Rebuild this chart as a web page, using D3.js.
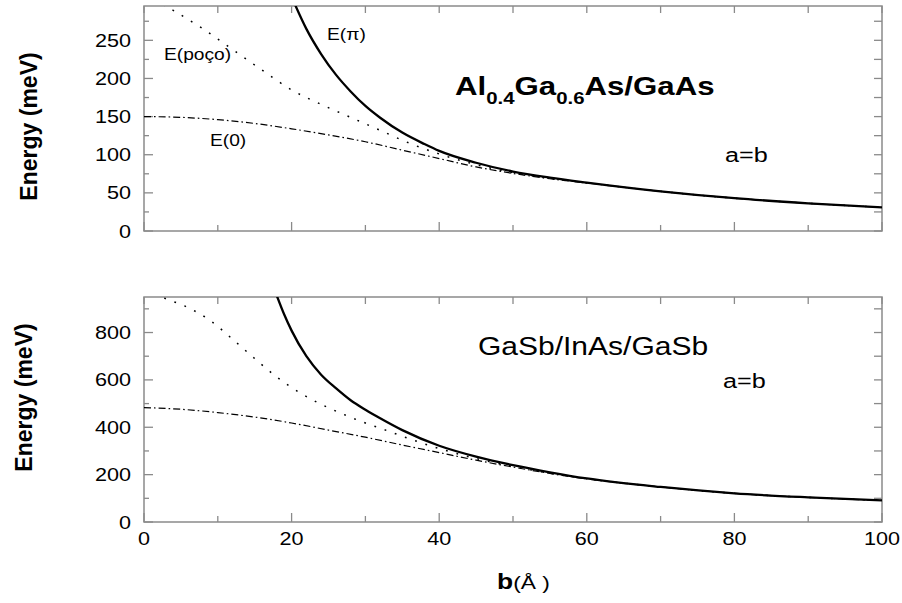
<!DOCTYPE html>
<html>
<head>
<meta charset="utf-8">
<script src="https://cdn.jsdelivr.net/npm/d3@7"></script>
<style>
  body { margin: 0; background: #fff; }
  svg { display: block; }
  text { font-family: "Liberation Sans", Arial, sans-serif; fill: #000; }
</style>
</head>
<body>
<div id="chart"></div>
<script>
// x axis (well width b, in angstrom)
const xTicks = [0, 20, 40, 60, 80, 100]

// Al0.4Ga0.6As/GaAs panel
const topYTicks = [0, 50, 100, 150, 200, 250]
const topPiB = [20, 20.5, 22, 24, 26, 28, 30, 32, 35, 38, 40, 45, 50, 55, 60, 70, 80, 90, 100]
const topPiE = [307, 296, 265, 232, 205, 183, 164, 148.5, 129, 114, 105, 89.5, 78, 70, 63.5, 52, 43, 36.3, 31]
const topWellB = [0, 4, 8, 12, 16, 20, 24, 28, 32, 36, 40, 45, 50, 55, 60, 70, 80, 90, 100]
const topWellE = [310, 289, 265, 238, 211, 185, 166, 149, 132, 115, 101, 87, 76.5, 69, 63, 52, 43, 36.3, 31]
const topZeroB = [0, 5, 10, 15, 20, 25, 30, 35, 40, 45, 50, 55, 60, 70, 80, 90, 100]
const topZeroE = [150, 149, 146, 141, 134, 126, 117, 106, 95, 84, 75.5, 68.5, 63, 52, 43, 36.3, 31]

// GaSb/InAs/GaSb panel
const botYTicks = [0, 200, 400, 600, 800]
const botPiB = [18, 19, 20, 22, 24, 26, 28, 30, 32, 35, 40, 45, 50, 55, 60, 70, 80, 90, 100]
const botPiE = [955, 876, 808, 700, 622, 565, 514, 474, 438, 388, 322, 276, 240, 210, 184, 148, 121, 104, 91]
const botWellB = [0, 3, 6, 9, 12, 15, 18, 21, 24, 27, 30, 33, 36, 40, 45, 50, 55, 60, 70, 80, 90, 100]
const botWellE = [977, 942, 905, 850, 772, 690, 612, 548, 497, 455, 418, 385, 351, 310, 268, 235, 206, 183, 148, 121, 104, 91]
const botZeroB = [0, 5, 10, 15, 20, 25, 30, 35, 40, 45, 50, 55, 60, 70, 80, 90, 100]
const botZeroE = [483, 476, 462, 443, 418, 388, 358, 325, 293, 261, 232, 205, 182, 148, 121, 104, 91]

const width = 902, height = 603
const xLeft = 144, xRight = 882
const sx = 1.2 // the original glyphs are wider than Arial

const svg = d3.select("#chart").append("svg")
  .attr("width", width)
  .attr("height", height)

const x = d3.scaleLinear().domain([0, 100]).range([xLeft, xRight])

const txt = (g, px, py, str, size, weight, anchor) => {
  return g.append("text")
    .attr("transform", `translate(${px},${py}) scale(${sx},1)`)
    .attr("font-size", size)
    .attr("font-weight", weight || "normal")
    .attr("text-anchor", anchor || "start")
    .text(str)
}

function panel(opts) {
  const { yTop, yBot, yMax, yTicks, yMinor, xLabels, series, id } = opts
  const y = d3.scaleLinear().domain([0, yMax]).range([yBot, yTop])
  const g = svg.append("g")

  g.append("clipPath").attr("id", id)
    .append("rect")
    .attr("x", xLeft).attr("y", yTop)
    .attr("width", xRight - xLeft).attr("height", yBot - yTop)

  // tick marks, pointing inside the frame
  const tickG = g.append("g").attr("stroke", "#8a8a8a").attr("stroke-width", 1.3)
  const xMinor = d3.range(10, 100, 20)
  xTicks.concat(xMinor).forEach(v => {
    const len = xTicks.includes(v) ? 9 : 6
    tickG.append("line")
      .attr("x1", x(v)).attr("x2", x(v))
      .attr("y1", yBot).attr("y2", yBot - len)
    tickG.append("line")
      .attr("x1", x(v)).attr("x2", x(v))
      .attr("y1", yTop).attr("y2", yTop + 7)
  })
  yTicks.concat(yMinor).forEach(v => {
    const len = yTicks.includes(v) ? 9 : 5
    tickG.append("line")
      .attr("x1", xLeft).attr("x2", xLeft + len)
      .attr("y1", y(v)).attr("y2", y(v))
    tickG.append("line")
      .attr("x1", xRight).attr("x2", xRight - 8)
      .attr("y1", y(v)).attr("y2", y(v))
  })

  // frame
  g.append("rect")
    .attr("x", xLeft).attr("y", yTop)
    .attr("width", xRight - xLeft).attr("height", yBot - yTop)
    .attr("fill", "none")
    .attr("stroke", "#8a8a8a")
    .attr("stroke-width", 1.5)

  // y tick labels
  yTicks.forEach(v => {
    txt(g, 131, y(v) + 6.5, v, 18, "normal", "end")
  })
  if (xLabels) {
    xTicks.forEach(v => {
      txt(g, x(v), yBot + 23, v, 18, "normal", "middle")
    })
  }

  const line = d3.line()
    .x(d => x(d[0]))
    .y(d => y(d[1]))
    .curve(d3.curveMonotoneX)

  const curves = g.append("g").attr("clip-path", `url(#${id})`)
  series.forEach(s => {
    curves.append("path")
      .datum(d3.zip(s.b, s.e))
      .attr("d", line)
      .attr("fill", "none")
      .attr("stroke", "#000")
      .attr("stroke-width", s.w)
      .attr("stroke-dasharray", s.dash)
  })
  return g
}

const dotted = "1.8,9"
const dashDot = "7,3,1.6,3"

const topG = panel({
  id: "clipTop", yTop: 6, yBot: 231, yMax: 295,
  yTicks: topYTicks, yMinor: d3.range(25, 295, 50), xLabels: false,
  series: [
    { b: topZeroB, e: topZeroE, w: 1.2, dash: dashDot },
    { b: topWellB, e: topWellE, w: 1.5, dash: dotted },
    { b: topPiB, e: topPiE, w: 2.3, dash: null }
  ]
})

const botG = panel({
  id: "clipBot", yTop: 297, yBot: 522, yMax: 950,
  yTicks: botYTicks, yMinor: d3.range(100, 950, 200), xLabels: true,
  series: [
    { b: botZeroB, e: botZeroE, w: 1.2, dash: dashDot },
    { b: botWellB, e: botWellE, w: 1.5, dash: dotted },
    { b: botPiB, e: botPiE, w: 2.3, dash: null }
  ]
})

// curve labels
txt(topG, 327, 40, "E(π)", 16)
txt(topG, 164, 60, "E(poço)", 16)
txt(topG, 210, 146, "E(0)", 16)

// top title with subscripts
const title = topG.append("text")
  .attr("transform", `translate(455,95) scale(${sx},1)`)
  .attr("font-size", 26)
  .attr("font-weight", "bold")
title.append("tspan").text("Al")
title.append("tspan").attr("font-size", 17).attr("dy", 9).text("0.4")
title.append("tspan").attr("dy", -9).text("Ga")
title.append("tspan").attr("font-size", 17).attr("dy", 9).text("0.6")
title.append("tspan").attr("dy", -9).text("As/GaAs")

txt(topG, 725, 162, "a=b", 21)

txt(botG, 478, 355, "GaSb/InAs/GaSb", 25)
txt(botG, 723, 388, "a=b", 21)

// axis titles
svg.append("text")
  .attr("transform", "translate(37,126.5) rotate(-90)")
  .attr("text-anchor", "middle")
  .attr("font-size", 23)
  .attr("font-weight", "bold")
  .text("Energy (meV)")
svg.append("text")
  .attr("transform", "translate(32,397.5) rotate(-90)")
  .attr("text-anchor", "middle")
  .attr("font-size", 23)
  .attr("font-weight", "bold")
  .text("Energy (meV)")

const xt = svg.append("text")
  .attr("transform", `translate(497,589) scale(${sx},1)`)
  .attr("font-size", 22)
xt.append("tspan").attr("font-weight", "bold").text("b")
xt.append("tspan").attr("font-size", 19).text("(Å )")
</script>
</body>
</html>
